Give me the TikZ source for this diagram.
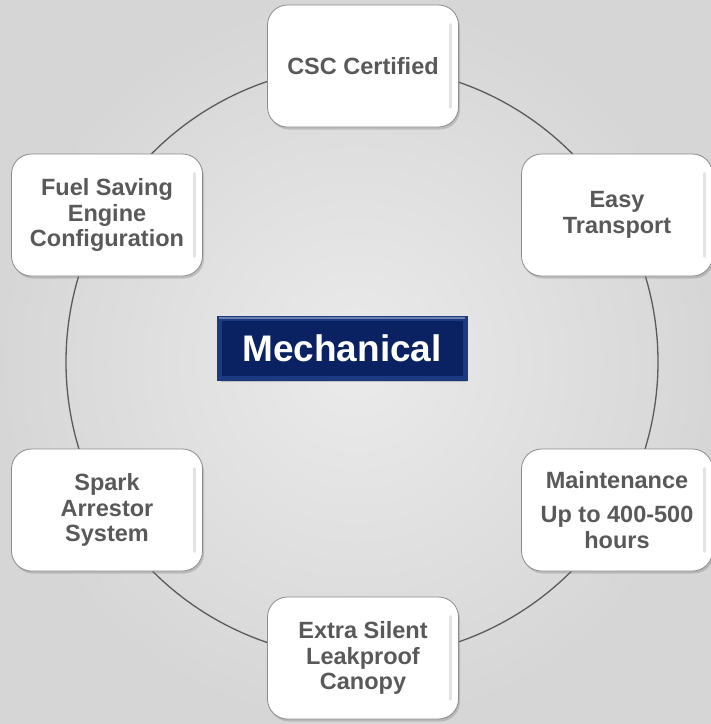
\documentclass[tikz,border=0pt]{standalone}
\usepackage{fontspec}
\setmainfont{Liberation Sans}
\usetikzlibrary{shadows,calc}
\definecolor{txt}{HTML}{595959}
\definecolor{ring}{HTML}{5A5A5A}
\definecolor{navy}{HTML}{0A2162}
\definecolor{navyedge}{HTML}{1C3A80}
\definecolor{boxedge}{HTML}{8C8C8C}
\tikzset{
  feat/.style={draw=boxedge, line width=0.8pt, fill=white, rounded corners=20pt,
    minimum width=191pt, minimum height=122pt, align=center, text=txt,
    font=\bfseries\fontsize{23.5}{25.5}\selectfont,
    drop shadow={opacity=0.35, shadow xshift=1.5pt, shadow yshift=-2.5pt}},
  ringline/.style={draw=ring, line width=1.3pt},
  hub/.style={draw=navyedge, line width=5pt, fill=navy, inner sep=0pt,
    minimum width=246pt, minimum height=60pt, text=white,
    font=\bfseries\fontsize{37}{40}\selectfont,
    drop shadow={opacity=0.4, shadow xshift=2pt, shadow yshift=-4pt}}
}
\begin{document}
\begin{tikzpicture}[x=1pt,y=-1pt]
  \useasboundingbox (0,0) rectangle (711,724);
  \shade[inner color=white!84!gray, outer color=white!68!gray] (0,0) rectangle (711,724);
  \coordinate (c) at (362,362);
  \draw[ringline] (c) circle[radius=296pt];
  \node[feat] (csc) at (363,66) {CSC Certified};
  \node[feat] (easy) at (617,215) {Easy\\Transport};
  \node[feat] (maint) at (617,510) {Maintenance\\[9pt]Up to 400-500\\hours};
  \node[feat] (extra) at (363,658) {Extra Silent\\Leakproof\\Canopy};
  \node[feat] (spark) at (107,510) {Spark\\Arrestor\\System};
  \node[feat] (fuel) at (107,215) {Fuel Saving\\Engine\\Configuration};
  \foreach \n in {csc,easy,maint,extra,spark,fuel}{
    \draw[gray!22, line width=3pt, line cap=round]
      ($(\n.north east)+(-8,20)$) -- ($(\n.south east)+(-8,-20)$);
  }
  \node[hub] (mech) at (342,348) {Mechanical};
  \draw[white!35!navyedge, line width=1.2pt] ($(mech.north west)+(2.5,2.5)$) -- ($(mech.north east)+(-2.5,2.5)$);
\end{tikzpicture}
\end{document}
